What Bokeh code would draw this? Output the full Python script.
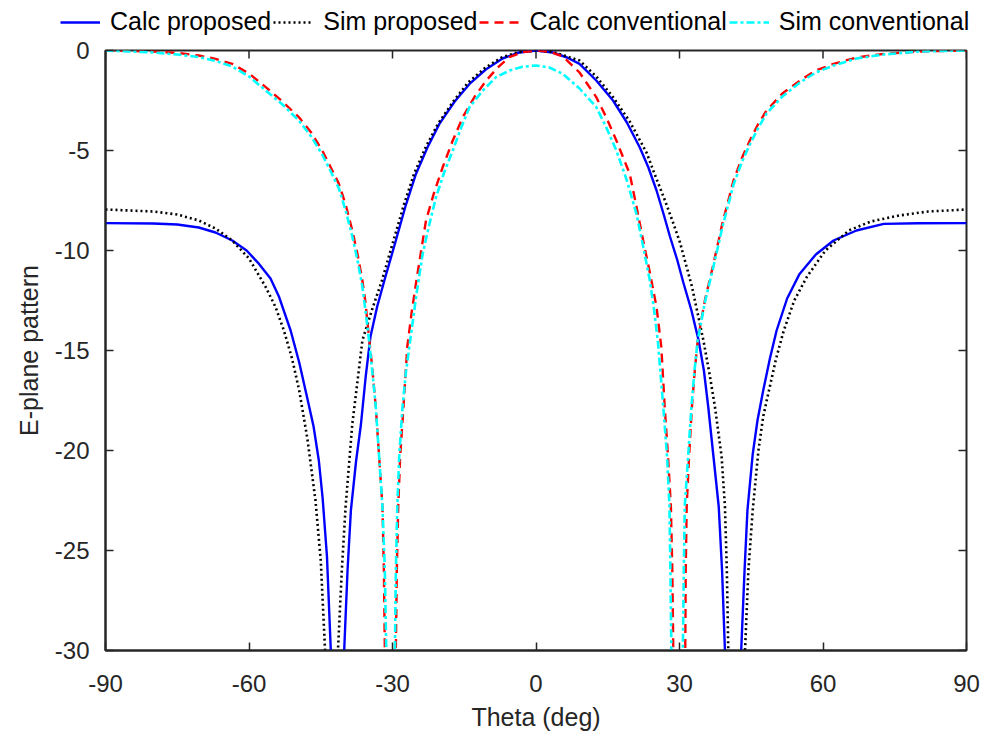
import math
from bokeh.plotting import figure
from bokeh.layouts import column
from bokeh.models import Legend, LegendItem, FixedTicker, Range1d
from bokeh.embed import file_html
from bokeh.resources import INLINE

# ---------------- data: (theta deg, pattern dB) ----------------
calc_proposed = [
    (-90, -8.63), (-80, -8.65), (-75, -8.7), (-70.5, -8.85), (-67, -9.1), (-63.5, -9.5),
    (-60.5, -10.0), (-57.9, -10.67), (-55.5, -11.4), (-53.7, -12.33), (-51.3, -14.0),
    (-49.5, -15.6), (-47.8, -17.4), (-46.5, -18.8), (-45.4, -20.5), (-44.6, -22.4),
    (-43.7, -25.3), (-42.9, -30), (-41.5, -42), (-40.1, -30), (-39.4, -26), (-38.7, -23),
    (-37.6, -20.5), (-36.6, -18.7), (-35.6, -16.3), (-34.6, -14.3), (-33.2, -12.8),
    (-31.7, -11.5), (-29.3, -9.5), (-27.3, -7.8), (-25.1, -6.17), (-22.7, -4.85),
    (-20.2, -3.67), (-17.0, -2.55), (-13.9, -1.67), (-10.5, -0.95), (-7.0, -0.4),
    (-3.5, -0.1), (0, 0), (3.5, -0.1), (6.5, -0.35), (9.1, -0.67), (12.6, -1.5),
    (16.1, -2.5), (19.0, -3.6), (21.7, -4.85), (23.5, -5.85), (25.2, -7.0), (26.7, -8.2),
    (28.0, -9.3), (29.5, -10.45), (30.8, -11.6), (32.5, -13.0), (34.0, -14.5),
    (35.1, -16.0), (36.0, -17.8), (37.1, -20.3), (38.2, -22.8), (38.9, -26), (39.5, -30),
    (41.2, -42), (42.9, -30), (43.6, -26), (44.2, -23), (45.3, -20.2), (46.3, -18.5),
    (47.5, -17.0), (48.9, -15.4), (50.3, -14.0), (52.5, -12.4), (55.1, -11.17),
    (58.5, -10.2), (62.2, -9.5), (67, -9.0), (72.7, -8.67), (80, -8.64), (90, -8.63),
]
sim_proposed = [
    (-90, -7.95), (-80, -8.05), (-75, -8.2), (-70.5, -8.5), (-67, -8.9), (-63.5, -9.5),
    (-60, -10.4), (-56.5, -11.83), (-54.5, -12.8), (-52.7, -14.0), (-51, -15.4),
    (-49.5, -17.0), (-47.8, -19.4), (-46.1, -22.5), (-45.0, -25.5), (-44.1, -30),
    (-42.8, -42), (-41.4, -30), (-40.6, -26), (-39.8, -22.8), (-38.4, -18.67),
    (-37.3, -16.5), (-36.3, -14.5), (-34.2, -12.9), (-32.2, -11.5), (-29.8, -9.5),
    (-27.6, -7.7), (-25.5, -6.17), (-23.0, -4.8), (-20.5, -3.67), (-17.3, -2.55),
    (-14.2, -1.6), (-10.7, -0.88), (-7.2, -0.35), (-3.6, -0.08), (0, 0), (3.6, -0.08),
    (6.5, -0.3), (9.1, -0.5), (12.6, -1.3), (16.1, -2.33), (19.6, -3.55), (23.1, -5.1),
    (25.0, -6.3), (26.8, -7.4), (28.5, -8.5), (30.1, -9.6), (32.6, -11.8), (35.0, -14.5),
    (36.3, -16.2), (37.4, -17.8), (38.8, -20.3), (39.5, -22.8), (39.9, -26), (40.2, -30),
    (42.0, -42), (43.7, -30), (44.4, -26), (45.3, -23), (46.5, -20.0), (47.5, -18.3),
    (48.7, -17.0), (50.2, -15.4), (51.8, -14.0), (54.0, -12.5), (56.6, -11.33),
    (60.5, -10.0), (65.4, -9.0), (70, -8.55), (75.9, -8.25), (82, -8.05), (90, -7.95),
]
calc_conventional = [
    (-90, 0), (-80, -0.05), (-75, -0.12), (-70.5, -0.25), (-67, -0.42), (-63.5, -0.67),
    (-60, -1.15), (-56.5, -1.83), (-53, -2.55), (-49.6, -3.33), (-47, -4.1), (-44.7, -5.0),
    (-43, -5.8), (-41.2, -6.67), (-39.8, -7.7), (-38.4, -9.0), (-37.3, -10.2),
    (-36.3, -11.5), (-35.7, -12.5), (-35.2, -13.67), (-34.3, -15.7), (-33.5, -17.8),
    (-32.8, -20.3), (-32.1, -22.8), (-31.8, -26), (-31.6, -30), (-30.5, -42), (-29.3, -30),
    (-29.1, -26), (-28.8, -22.8), (-28.4, -20.3), (-27.7, -17.8), (-26.9, -14.8),
    (-26.0, -13.1), (-25.0, -11.5), (-24.0, -10.0), (-23.0, -8.5), (-21.3, -7.1),
    (-19.5, -5.83), (-17.4, -4.5), (-15.3, -3.33), (-12.8, -2.3), (-10.4, -1.5),
    (-8.0, -0.85), (-5.55, -0.33), (-2.8, -0.08), (0, 0), (2.8, -0.06), (5.6, -0.3),
    (9.1, -1.1), (12.6, -2.33), (14.7, -3.35), (16.8, -4.5), (19.6, -6.17), (21.0, -7.8),
    (22.4, -9.5), (23.8, -11.1), (25.2, -12.83), (26.2, -14.83), (26.9, -17.8),
    (27.6, -20.3), (28.2, -22.8), (28.5, -26), (28.7, -30), (29.9, -42), (31.2, -30),
    (31.3, -26), (31.5, -22.8), (32.0, -20.3), (32.6, -17.8), (33.2, -16.0), (33.8, -14.5),
    (35.3, -12.5), (37.1, -10.67), (39.0, -8.6), (41.3, -6.5), (43.0, -5.4), (44.7, -4.5),
    (46.4, -3.7), (48.2, -3.0), (51.5, -2.15), (55.2, -1.5), (58.5, -1.0), (62.2, -0.67),
    (67, -0.35), (72.7, -0.17), (80, -0.05), (90, 0),
]
sim_conventional = [
    (-90, 0), (-80, -0.1), (-75, -0.2), (-70.5, -0.33), (-67, -0.52), (-63.5, -0.8),
    (-60, -1.3), (-56.5, -2.0), (-53, -2.7), (-49.6, -3.5), (-47, -4.3), (-44.7, -5.2),
    (-43, -6.0), (-41.2, -6.9), (-39.8, -8.0), (-38.4, -9.3), (-37.3, -10.5),
    (-36.3, -11.8), (-35.6, -13.1), (-34.9, -14.5), (-34.2, -16.1), (-33.5, -17.8),
    (-32.8, -20.3), (-32.1, -22.8), (-31.6, -26), (-31.3, -30), (-30.4, -42), (-29.5, -30),
    (-29.3, -26), (-29.0, -22.8), (-28.6, -20.3), (-27.9, -17.8), (-27.2, -16.1),
    (-26.3, -14.5), (-25.0, -12.2), (-23.7, -10.17), (-22.3, -8.7), (-20.9, -7.33),
    (-19.2, -6.1), (-17.4, -5.0), (-15.7, -3.9), (-13.9, -2.83), (-11.1, -2.0),
    (-8.35, -1.33), (-5.5, -1.0), (-3.0, -0.82), (0, -0.75), (2.8, -0.85), (5.6, -1.17),
    (9.1, -1.9), (12.6, -2.83), (14.7, -3.85), (16.8, -5.0), (19.0, -6.5), (21.0, -8.17),
    (22.4, -9.8), (23.8, -11.5), (24.7, -13.0), (25.5, -14.6), (26.6, -17.8),
    (27.4, -20.3), (27.9, -22.8), (28.1, -26), (28.3, -30), (29.4, -42), (30.7, -30),
    (30.9, -26), (31.1, -22.8), (31.8, -20.3), (32.5, -17.8), (33.1, -16.1), (33.8, -14.5),
    (35.3, -12.6), (37.1, -10.8), (39.0, -8.8), (41.3, -6.7), (43.0, -5.6), (44.7, -4.7),
    (46.4, -3.9), (48.2, -3.15), (51.5, -2.3), (55.2, -1.6), (58.5, -1.1), (62.2, -0.75),
    (67, -0.4), (72.7, -0.2), (80, -0.05), (90, 0),
]

x_ticks = [-90, -60, -30, 0, 30, 60, 90]
y_ticks = [-30, -25, -20, -15, -10, -5, 0]
labels = ["Calc proposed", "Sim proposed", "Calc conventional", "Sim conventional"]
colors = ["#0000FF", "#000000", "#FF0000", "#00FFFF"]
widths = [2.4, 2.6, 2.4, 2.6]
dashes = ["solid", "2 3", "9 6", "8 3 3 3"]

# ---------------- main figure ----------------
FONT = "Liberation Sans"
AX = "#262626"
LEG_H = 36

p = figure(width=981, height=736 - LEG_H, output_backend="svg", toolbar_location=None,
           x_range=Range1d(-90, 90), y_range=Range1d(-30, 0),
           min_border_left=105, min_border_right=15, min_border_top=50 - LEG_H,
           min_border_bottom=86)
p.xgrid.visible = False
p.ygrid.visible = False
p.background_fill_color = "white"
p.border_fill_color = "white"
p.outline_line_color = AX
p.outline_line_width = 2

p.xaxis.ticker = FixedTicker(ticks=x_ticks)
p.yaxis.ticker = FixedTicker(ticks=y_ticks)
p.xaxis.major_label_overrides = {t: str(t) for t in x_ticks}
p.yaxis.major_label_overrides = {t: str(t) for t in y_ticks}
for ax in (p.xaxis[0], p.yaxis[0]):
    ax.axis_line_color = AX
    ax.axis_line_width = 2
    ax.major_tick_in = 8
    ax.major_tick_out = 0
    ax.major_tick_line_color = AX
    ax.major_tick_line_width = 1.5
    ax.minor_tick_line_color = None
    ax.major_label_text_font = FONT
    ax.major_label_text_color = AX
    ax.major_label_text_font_size = "24px"
    ax.axis_label_text_font = FONT
    ax.axis_label_text_font_size = "25px"
    ax.axis_label_text_font_style = "normal"
    ax.axis_label_text_color = AX
p.xaxis.axis_label = "Theta (deg)"
p.yaxis.axis_label = "E-plane pattern"
p.xaxis.major_label_standoff = 24
p.yaxis.major_label_standoff = 16
p.xaxis.axis_label_standoff = 8
p.yaxis.axis_label_standoff = 9

# tick marks on the top and right edges of the box (pointing inward)
p.ray(x=x_ticks, y=[max(y_ticks)] * len(x_ticks), length=8, length_units="screen",
      angle=-math.pi / 2, line_color=AX, line_width=1.5)
p.ray(x=[max(x_ticks)] * len(y_ticks), y=y_ticks, length=8, length_units="screen",
      angle=math.pi, line_color=AX, line_width=1.5)

def xy(pairs):
    return [a for a, _ in pairs], [b for _, b in pairs]

series = [calc_proposed, sim_proposed, calc_conventional, sim_conventional]
for data, c, w, d in zip(series, colors, widths, dashes):
    xs, ys = xy(data)
    p.line(xs, ys, line_color=c, line_width=w, line_dash=d)

# ---------------- legend strip above the plot ----------------
lf = figure(width=981, height=LEG_H, output_backend="svg", toolbar_location=None,
            x_axis_type=None, y_axis_type=None, x_range=Range1d(1000, 1001),
            y_range=Range1d(1000, 1001), min_border=0)
lf.frame_align = False
lf.outline_line_color = None
lf.xgrid.visible = False
lf.ygrid.visible = False
lf.background_fill_color = "white"
lf.border_fill_color = "white"
items = []
for data, lab, c, w, d in zip(series, labels, colors, widths, dashes):
    xs, ys = xy(data)
    r = lf.line(xs, ys, line_color=c, line_width=w, line_dash=d)  # outside the strip's range
    items.append(LegendItem(label=lab, renderers=[r]))
legend = Legend(items=items, orientation="horizontal", location=(60, 0),
                border_line_color=None, background_fill_alpha=0,
                padding=0, margin=0, spacing=2, glyph_width=40, label_standoff=10,
                label_text_font=FONT, label_text_font_size="25px", label_text_color="#000000")
lf.add_layout(legend)

layout = column(lf, p, spacing=0)
open("out.html", "w").write(file_html(layout, INLINE))
